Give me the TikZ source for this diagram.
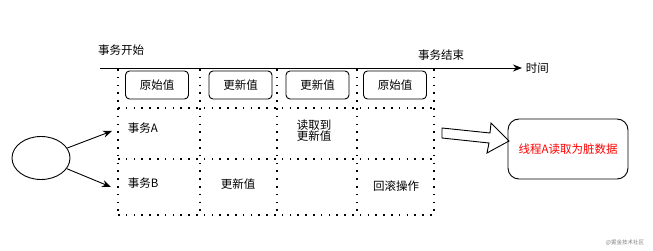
\documentclass[tikz,border=0pt]{standalone}
\usepackage{fontspec}
\setmainfont{Noto Sans CJK SC}
\usetikzlibrary{arrows.meta,shapes.geometric}
\tikzset{
  grid line/.style={line width=1.6pt,dash pattern=on 1.6pt off 6.2pt},
  valbox/.style={draw,rounded corners=4pt,minimum width=63pt,minimum height=28pt,inner sep=0pt},
}
\begin{document}
\begin{tikzpicture}[x=1pt,y=-1pt,line width=0.9pt,font=\fontsize{11.5}{14}\selectfont]
        \useasboundingbox (0,0) rectangle (653,251);
        \foreach \x in {118,200,277,357,434} \draw[grid line] (\x,69) -- (\x,215);
        \foreach \y in {108,159,215} \draw[grid line] (118,\y) -- (434,\y);
        \coordinate (t0) at (100,68);
        \node[anchor=west] (time) at (522,68) {时间};
        \draw[-{Stealth[length=9pt,width=7pt]}] (t0) -- (time);
        \node (start) at (121,50) {事务开始};
        \node (end) at (441,55) {事务结束};
        \node[valbox] (v1) at (157,85) {原始值};
        \node[valbox] (v2) at (240.5,85) {更新值};
        \node[valbox] (v3) at (317.5,85) {更新值};
        \node[valbox] (v4) at (395,85) {原始值};
        \node[ellipse,draw,minimum width=58pt,minimum height=43pt] (src) at (41,158) {};
        \coordinate (pa) at (112,131);
        \coordinate (pb) at (111,187);
        \draw[-{Stealth[length=9pt,width=7pt]}] (src) -- (pa);
        \draw[-{Stealth[length=9pt,width=7pt]}] (src) -- (pb);
        \node[anchor=west] (ta) at (124,128) {事务A};
        \node[anchor=west] (tb) at (124,183) {事务B};
        \node (ra) at (314,132) {\begin{tabular}{@{}c@{}}读取到\\[-3pt]更新值\end{tabular}};
        \node (ub) at (238,184) {更新值};
        \node (rb) at (396,186) {回滚操作};
        \node[draw,rounded corners=11pt,minimum width=120pt,minimum height=60pt,text=red] (dirty) at (568,149) {线程A读取为脏数据};
        \draw (442,128) -- (490,133) -- (491,123) -- (509,141) -- (487,153) -- (489,143) -- (442,138) -- cycle;
        \node[gray,font=\fontsize{5.5}{6}\selectfont] (mark) at (625,243) {@掘金技术社区};
\end{tikzpicture}
\end{document}
